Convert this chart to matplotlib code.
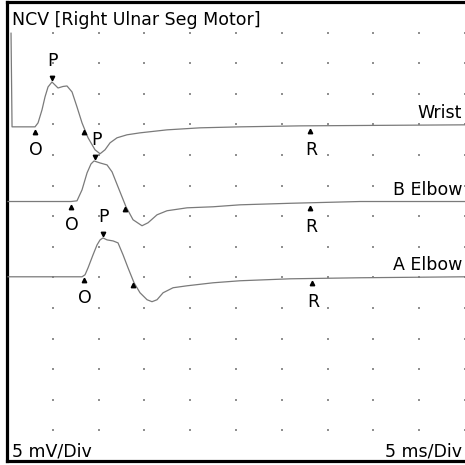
import numpy as np
import matplotlib
matplotlib.use("Agg")
import matplotlib.pyplot as plt
import matplotlib.transforms as mtransforms

# ---- data (time in ms, amplitude in mV relative to each baseline) ----
title = "NCV [Right Ulnar Seg Motor]"
sens_label = "5 mV/Div"
sweep_label = "5 ms/Div"

trace_names = ["Wrist", "B Elbow", "A Elbow"]
trace_offsets = [-20.4, -32.6, -44.9]

wrist_t = [0.44, 0.55, 3.06, 3.39, 3.82, 4.15, 4.48, 4.91, 5.57, 6.12, 6.55, 7.10,
           7.64, 8.19, 8.85, 9.61, 10.16, 10.70, 11.25, 12.01, 13.10, 14.52, 17.47,
           21.08, 25.44, 32.0, 50.0]
wrist_v = [15.3, 0.0, 0.0, 0.65, 2.77, 4.89, 6.52, 7.33, 6.35, 6.60, 6.68, 5.70,
           3.26, 0.65, -1.79, -3.75, -4.40, -3.75, -2.61, -1.79, -1.30, -0.98, -0.49,
           -0.16, 0.0, 0.16, 0.33]

belbow_t = [0.11, 6.99, 7.64, 8.19, 8.74, 9.17, 9.50, 10.16, 10.92, 11.47, 12.12,
            12.99, 13.76, 14.74, 15.40, 16.38, 17.47, 19.66, 22.5, 25.44, 30.9, 38.55, 50.0]
belbow_v = [0.0, 0.0, 0.11, 1.9, 4.68, 6.14, 6.63, 6.30, 5.98, 4.84, 2.39,
            -0.86, -2.98, -3.96, -3.47, -2.17, -1.51, -1.03, -0.86, -0.54, -0.29, 0.0, 0.0]

aelbow_t = [0.11, 8.19, 8.52, 8.85, 9.39, 9.83, 10.16, 10.48, 10.92, 11.58, 12.12,
            12.67, 13.21, 13.87, 14.52, 15.29, 15.83, 16.38, 17.04, 18.13, 19.66,
            22.5, 25.44, 30.9, 38.55, 50.0]
aelbow_v = [0.0, 0.0, 0.33, 1.47, 3.58, 5.21, 6.03, 6.35, 6.03, 5.86, 5.54,
            3.58, 1.47, -0.98, -2.61, -3.75, -4.07, -3.75, -2.61, -1.79, -1.47,
            -0.98, -0.65, -0.33, -0.16, 0.0]

onset_t = [3.06, 6.99, 8.41]
peak_t = [4.91, 9.61, 10.48]
neg_t = [8.52, 12.99, 13.87]
recov_t = [33.1, 33.1, 33.3]

traces_t = [wrist_t, belbow_t, aelbow_t]
traces_v = [wrist_v, belbow_v, aelbow_v]

# ---- figure ----
W = H = 465
fig = plt.figure(figsize=(W / 100, H / 100), dpi=100)
ax = fig.add_axes([7 / W, 4 / H, 458 / W, 459 / H])
ax.set_xlim(0, 50)
ax.set_ylim(-75, 0)
ax.set_xticks([])
ax.set_yticks([])
for s in ["left", "top", "bottom"]:
    ax.spines[s].set_linewidth(2.3)
    ax.spines[s].set_color("black")
ax.spines["right"].set_visible(False)

# grid dots
gx, gy = np.meshgrid(np.arange(0, 51, 5), np.arange(-75, 1, 5))
ax.scatter(gx.ravel(), gy.ravel(), s=1.0, color="#909090", marker="s",
           linewidths=0, zorder=1, clip_on=False)

trace_color = "#7a7a7a"
fs = 12.5
ms = 3.2
px = lambda dx, dy: mtransforms.offset_copy(ax.transData, fig=fig, x=dx, y=dy, units="dots")

for i in range(3):
    t = np.array(traces_t[i])
    v = np.array(traces_v[i]) + trace_offsets[i]
    ax.plot(t, v, color=trace_color, lw=0.9, zorder=3)

    def yat(tt):
        return np.interp(tt, t, v)

    # onset
    ax.plot([onset_t[i]], [yat(onset_t[i])], marker="^", ms=ms, color="black",
            transform=px(0, -5), zorder=4)
    ax.text(onset_t[i], yat(onset_t[i]), "O", transform=px(1, -23), fontsize=fs,
            ha="center", va="center", color="black")
    # peak
    ax.plot([peak_t[i]], [yat(peak_t[i])], marker="v", ms=ms, color="black",
            transform=px(0, 4), zorder=4)
    ax.text(peak_t[i], yat(peak_t[i]), "P", transform=px(1, 21), fontsize=fs,
            ha="center", va="center", color="black")
    # negative marker
    ax.plot([neg_t[i]], [yat(neg_t[i])], marker="^", ms=ms, color="black",
            transform=px(-1, -2), zorder=4)
    # recovery
    ax.plot([recov_t[i]], [yat(recov_t[i])], marker="^", ms=ms, color="black",
            transform=px(0, -5), zorder=4)
    ax.text(recov_t[i], yat(recov_t[i]), "R", transform=px(1, -24), fontsize=fs,
            ha="center", va="center", color="black")
    # name
    ax.text(49.7, v[-1], trace_names[i], transform=px(0, 12), fontsize=fs,
            ha="right", va="center", color="black")

ax.text(5 / 458, 1 - 18 / 459, title, transform=ax.transAxes, fontsize=fs,
        ha="left", va="center", color="black")
ax.text(5 / 458, 10 / 459, sens_label, transform=ax.transAxes, fontsize=fs,
        ha="left", va="center", color="black")
ax.text(455 / 458, 10 / 459, sweep_label, transform=ax.transAxes, fontsize=fs,
        ha="right", va="center", color="black")

fig.savefig("out.png", dpi=100)
